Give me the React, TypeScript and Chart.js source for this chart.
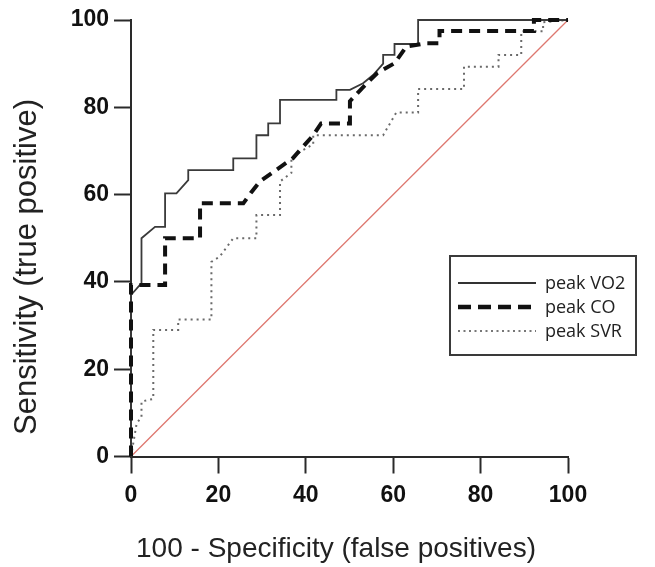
import React, { useEffect, useRef } from "react";
import { Chart, registerables } from "chart.js";

Chart.register(...registerables);

// ROC curves: false-positive rate (100 - specificity) and sensitivity, in %
const vo2Fpr = [0, 0, 2.4, 2.4, 5.5, 7.8, 7.8, 10.4, 13.1, 13.1, 23.4, 23.4, 28.7, 28.7, 31.4, 31.4, 34.1, 34.1, 47, 47, 50.1, 53.1, 55.4, 57.7, 57.7, 60.3, 60.3, 65.7, 65.7, 100];
const vo2Tpr = [0, 37, 39.7, 50, 52.6, 52.6, 60.3, 60.3, 63.3, 65.6, 65.6, 68.3, 68.3, 73.6, 73.6, 76.3, 76.3, 81.7, 81.7, 84, 84, 85.5, 87.4, 90, 92, 92, 94.5, 94.5, 100, 100];

const coFpr = [0, 0, 7.8, 7.8, 15.8, 15.8, 25.7, 27.5, 29.5, 33, 37, 39.4, 41.7, 43.5, 50.1, 50.1, 52.8, 56.3, 60.3, 63, 67.6, 70.6, 70.6, 92.2, 92.2, 100];
const coTpr = [0, 39.3, 39.3, 50, 50, 58, 58, 60.5, 63, 65.5, 68.3, 71, 73.6, 76.3, 76.3, 81.4, 84.3, 87.8, 90.1, 93.9, 94.7, 94.7, 97.5, 97.5, 100, 100];

const svrFpr = [0, 1.3, 2.4, 2.4, 5.1, 5.1, 10.8, 10.8, 18.4, 18.4, 20.3, 23.4, 28.7, 28.7, 34.1, 34.1, 36.7, 36.7, 39, 41.7, 41.7, 57.7, 60.7, 65.7, 65.7, 76.2, 76.2, 84.1, 84.1, 89.3, 89.3, 94.3, 94.3, 100];
const svrTpr = [0, 7.6, 9, 12.6, 13.2, 29, 29, 31.4, 31.4, 44.6, 45.8, 50, 50, 55.3, 55.3, 63, 65, 68.3, 70, 71.5, 73.6, 73.6, 78.8, 78.8, 84.2, 84.2, 89.3, 89.3, 92, 92, 97.4, 97.4, 99.5, 100];

const refFpr = [0, 100];
const refTpr = [0, 100];

const xTicks = [0, 20, 40, 60, 80, 100];
const yTicks = [0, 20, 40, 60, 80, 100];

const seriesNames = ["peak VO2", "peak CO", "peak SVR"];
const xTitle = "100 - Specificity (false positives)";
const yTitle = "Sensitivity (true positive)";

const pts = (xs: number[], ys: number[]) => xs.map((x, i) => ({ x, y: ys[i] }));

const titleFont = '"Liberation Sans", Arial, sans-serif';

const decorPlugin = {
  id: "decor",
  afterDraw(chart: any) {
    const ctx = chart.ctx;
    ctx.save();
    // axis titles
    ctx.fillStyle = "#222";
    ctx.textAlign = "center";
    ctx.textBaseline = "middle";
    ctx.font = `28px ${titleFont}`;
    ctx.fillText(xTitle, 336, 549);
    ctx.save();
    ctx.translate(27, 267);
    ctx.rotate(-Math.PI / 2);
    ctx.font = `31px ${titleFont}`;
    ctx.fillText(yTitle, 0, 0);
    ctx.restore();

    // legend box
    const left = 450, top = 256, right = 636, bottom = 355;
    ctx.strokeStyle = "#3a3a3a";
    ctx.lineWidth = 2;
    ctx.strokeRect(left, top, right - left, bottom - top);
    const rows = [283, 307, 331];
    const styles = [
      { color: "#333", width: 1.8, dash: [] as number[] },
      { color: "#111", width: 4.5, dash: [13, 7] },
      { color: "#777", width: 1.8, dash: [2, 3.5] },
    ];
    rows.forEach((y, i) => {
      const s = styles[i];
      ctx.beginPath();
      ctx.strokeStyle = s.color;
      ctx.lineWidth = s.width;
      ctx.setLineDash(s.dash);
      ctx.moveTo(458, y);
      ctx.lineTo(536, y);
      ctx.stroke();
      ctx.setLineDash([]);
      ctx.fillStyle = "#222";
      ctx.font = '18px "Open Sans"';
      ctx.textBaseline = "middle";
      ctx.textAlign = "left";
      ctx.fillText(seriesNames[i], 545, y + 1);
    });
    ctx.restore();
  },
};

export default function App() {
  const ref = useRef<HTMLCanvasElement | null>(null);
  useEffect(() => {
    if (!ref.current) return;
    const axisCommon = {
      type: "linear" as const,
      min: 0,
      max: 100,
      grid: {
        display: true,
        drawOnChartArea: false,
        drawTicks: true,
        tickLength: 17,
        tickWidth: 2,
        tickColor: "#2a2a2a",
      },
      border: { display: true, width: 2, color: "#2a2a2a" },
    };
    const chart = new Chart(ref.current, {
      type: "line",
      data: {
        datasets: [
          {
            label: seriesNames[1],
            data: pts(coFpr, coTpr),
            borderColor: "#111",
            borderWidth: 4,
            borderDash: [11, 7],
            pointRadius: 0,
            tension: 0,
            clip: false as any,
            order: 0,
          },
          {
            label: seriesNames[0],
            data: pts(vo2Fpr, vo2Tpr),
            borderColor: "#3a3a3a",
            borderWidth: 1.8,
            pointRadius: 0,
            tension: 0,
            clip: false as any,
            order: 1,
          },
          {
            label: seriesNames[2],
            data: pts(svrFpr, svrTpr),
            borderColor: "#6a6a6a",
            borderWidth: 2,
            borderDash: [2, 4],
            pointRadius: 0,
            tension: 0,
            clip: false as any,
            order: 2,
          },
          {
            label: "reference",
            data: pts(refFpr, refTpr),
            borderColor: "rgb(222,120,112)",
            borderWidth: 1.3,
            pointRadius: 0,
            tension: 0,
            clip: false as any,
            order: 3,
          },
        ],
      },
      options: {
        animation: false,
        responsive: true,
        maintainAspectRatio: false,
        layout: { padding: { top: 20, right: 87, left: 0, bottom: 0 } },
        plugins: { legend: { display: false }, tooltip: { enabled: false } },
        scales: {
          x: {
            ...axisCommon,
            position: "bottom",
            afterBuildTicks: (s: any) => {
              s.ticks = xTicks.map((v) => ({ value: v }));
            },
            afterFit: (s: any) => {
              s.height = 110.5;
            },
            ticks: {
              color: "#111",
              padding: 8,
              maxRotation: 0,
              font: { family: titleFont, size: 23, weight: "bold" },
            },
          },
          y: {
            ...axisCommon,
            position: "left",
            afterBuildTicks: (s: any) => {
              s.ticks = yTicks.map((v) => ({ value: v }));
            },
            afterFit: (s: any) => {
              s.width = 131;
            },
            ticks: {
              color: "#111",
              padding: 5,
              font: { family: titleFont, size: 23, weight: "bold" },
            },
          },
        },
      } as any,
      plugins: [decorPlugin],
    });
    return () => chart.destroy();
  }, []);
  return (
    <div style={{ position: "absolute", left: 0, top: 0, width: 655, height: 567, background: "#fff" }}>
      <canvas ref={ref} />
    </div>
  );
}
